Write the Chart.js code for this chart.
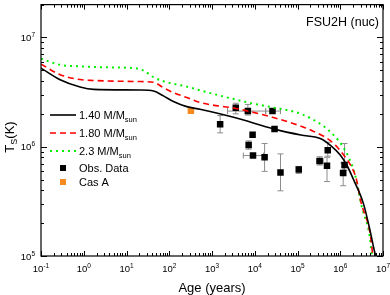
<!DOCTYPE html>
<html>
<head>
<meta charset="utf-8">
<script src="https://cdn.jsdelivr.net/npm/chart.js@4.4.1/dist/chart.umd.min.js"></script>
<style>
  html, body { margin: 0; padding: 0; background: #fff; }
</style>
</head>
<body>
<canvas id="coolingChart" width="390" height="295"></canvas>
<script>
// cooling curves, age in years, surface temperature in K
const age140 = [0.1, 0.28, 0.82, 1.7, 21, 43, 73, 125, 257, 525, 3.2e3, 2.9e4, 1.2e5, 3.4e5, 5.9e5, 1.0e6, 1.45e6, 2.0e6, 3.5e6, 5.0e6, 6.5e6, 6.9e6];
const temp140 = [5.25e6, 4.1e6, 3.52e6, 3.35e6, 3.31e6, 3.24e6, 2.92e6, 2.6e6, 2.33e6, 2.2e6, 1.86e6, 1.45e6, 1.28e6, 1.19e6, 1.03e6, 8.4e5, 6.7e5, 5.1e5, 3.0e5, 1.7e5, 1.06e5, 1.0e5];

const age180 = [0.1, 0.28, 0.82, 1.7, 21, 43, 73, 125, 257, 525, 3.6e3, 2.6e4, 1.4e5, 2.6e5, 4.5e5, 7.8e5, 1.2e6, 1.74e6, 2.4e6, 3.0e6, 5.0e6, 5.8e6];
const temp180 = [5.7e6, 4.57e6, 4.12e6, 4.04e6, 3.95e6, 3.89e6, 3.47e6, 3.13e6, 2.82e6, 2.54e6, 2.24e6, 1.86e6, 1.51e6, 1.36e6, 1.22e6, 1.03e6, 8.4e5, 6.8e5, 5.0e5, 3.2e5, 1.6e5, 1.0e5];

const age230 = [0.1, 0.28, 0.82, 3.5, 14.5, 25, 43, 73, 257, 525, 7.0e3, 2.6e4, 1.2e5, 4.1e5, 7.1e5, 1.1e6, 1.6e6, 2.2e6, 3.2e6, 4.9e6, 5.5e6];
const temp230 = [6.4e6, 5.62e6, 5.45e6, 5.33e6, 5.25e6, 4.98e6, 4.33e6, 3.98e6, 3.55e6, 3.28e6, 2.54e6, 2.29e6, 2.0e6, 1.54e6, 1.27e6, 1.03e6, 7.9e5, 5.6e5, 2.8e5, 1.5e5, 1.0e5];

// observed neutron stars
const obsAge = [1.55e3, 3.6e3, 6.9e3, 2.6e4, 2.9e4, 8.9e3, 7.2e3, 9.1e3, 1.7e4, 4.0e4, 1.07e5, 3.3e5, 5.1e5, 4.9e5, 1.17e6, 1.26e6];
const obsTemp = [1.61e6, 2.27e6, 2.12e6, 2.12e6, 1.45e6, 1.29e6, 1.04e6, 8.3e5, 8.0e5, 5.8e5, 6.2e5, 7.4e5, 9.3e5, 6.7e5, 5.75e5, 6.8e5];
const obsTempLo = [1.34e6, 2.0e6, 1.95e6, null, null, null, 9.5e5, null, 5.95e5, 3.95e5, 5.7e5, 6.8e5, 8.2e5, 4.8e5, 4.4e5, 6.1e5];
const obsTempHi = [1.93e6, 2.5e6, 2.44e6, null, null, null, 1.13e6, null, 1.07e6, 8.6e5, 6.6e5, 8.1e5, 1.1e6, 8.0e5, 7.1e5, 1.07e6];
const obsAgeLo = [null, null, 2.3e3, 1.8e4, null, null, null, 5.4e3, null, null, null, 2.8e5, null, null, 1.0e6, null];
const obsAgeHi = [null, null, 1.8e4, 4.0e4, null, null, null, 1.6e4, null, null, null, 4.0e5, null, null, 1.35e6, null];

const casAAge = [321];
const casATemp = [2.14e6];

const xDecades = [-1, 0, 1, 2, 3, 4, 5, 6, 7];
const yDecades = [5, 6, 7];

const FONT = '"Liberation Sans", Arial, Helvetica, sans-serif';

function pts(xs, ys) {
  return xs.map((x, i) => ({ x: x, y: ys[i] }));
}

// text with a raised/lowered small part
function drawSupText(ctx, base, small, x, y, size, smallSize, shift, align) {
  ctx.font = size + 'px ' + FONT;
  const wb = ctx.measureText(base).width;
  ctx.font = smallSize + 'px ' + FONT;
  const ws = ctx.measureText(small).width;
  let x0 = x;
  if (align === 'center') x0 = x - (wb + ws) / 2;
  if (align === 'right') x0 = x - (wb + ws);
  ctx.textAlign = 'left';
  ctx.textBaseline = 'alphabetic';
  ctx.font = size + 'px ' + FONT;
  ctx.fillText(base, x0, y);
  ctx.font = smallSize + 'px ' + FONT;
  ctx.fillText(small, x0 + wb, y + shift);
  return x0 + wb + ws;
}

const errorBars = {
  id: 'errorBars',
  beforeDatasetsDraw(chart) {
    const { ctx, scales: { x, y } } = chart;
    ctx.save();
    ctx.strokeStyle = '#8c8c8c';
    ctx.lineWidth = 1;
    const cap = 3;
    obsAge.forEach((a, i) => {
      const px = x.getPixelForValue(a);
      const py = y.getPixelForValue(obsTemp[i]);
      if (obsTempLo[i] !== null) {
        const y1 = y.getPixelForValue(obsTempLo[i]);
        const y2 = y.getPixelForValue(obsTempHi[i]);
        ctx.beginPath();
        ctx.moveTo(px, y1); ctx.lineTo(px, y2);
        ctx.moveTo(px - cap, y1); ctx.lineTo(px + cap, y1);
        ctx.moveTo(px - cap, y2); ctx.lineTo(px + cap, y2);
        ctx.stroke();
      }
      if (obsAgeLo[i] !== null) {
        const x1 = x.getPixelForValue(obsAgeLo[i]);
        const x2 = x.getPixelForValue(obsAgeHi[i]);
        ctx.beginPath();
        ctx.moveTo(x1, py); ctx.lineTo(x2, py);
        ctx.moveTo(x1, py - cap); ctx.lineTo(x1, py + cap);
        ctx.moveTo(x2, py - cap); ctx.lineTo(x2, py + cap);
        ctx.stroke();
      }
    });
    ctx.restore();
  }
};

const frameAndText = {
  id: 'frameAndText',
  afterDraw(chart) {
    const { ctx, chartArea: ca, scales: { x, y } } = chart;
    ctx.save();
    ctx.strokeStyle = '#000';
    ctx.lineWidth = 1.2;
    ctx.strokeRect(ca.left, ca.top, ca.right - ca.left, ca.bottom - ca.top);

    // inward ticks on all four sides
    ctx.lineWidth = 1;
    ctx.beginPath();
    for (let d = -1; d <= 7; d++) {
      for (let m = 1; m <= 9; m++) {
        const v = m * Math.pow(10, d);
        if (v > 1e7 + 1) continue;
        const px = Math.round(x.getPixelForValue(v)) + 0.5;
        const len = m === 1 ? 5 : 3;
        ctx.moveTo(px, ca.bottom); ctx.lineTo(px, ca.bottom - len);
        ctx.moveTo(px, ca.top); ctx.lineTo(px, ca.top + len);
      }
    }
    for (let d = 5; d <= 7; d++) {
      for (let m = 1; m <= 9; m++) {
        const v = m * Math.pow(10, d);
        if (v > 2e7 + 1) continue;
        const py = Math.round(y.getPixelForValue(v)) + 0.5;
        const len = m === 1 ? 6 : 3;
        ctx.moveTo(ca.left, py); ctx.lineTo(ca.left + len, py);
        ctx.moveTo(ca.right, py); ctx.lineTo(ca.right - len, py);
      }
    }
    ctx.stroke();

    // tick labels
    ctx.fillStyle = '#000';
    xDecades.forEach(d => {
      const px = x.getPixelForValue(Math.pow(10, d));
      drawSupText(ctx, '10', String(d), px, 272, 9.5, 6.5, -4, 'center');
    });
    yDecades.forEach(d => {
      const py = y.getPixelForValue(Math.pow(10, d));
      drawSupText(ctx, '10', String(d), 35, py + 3.5, 9.5, 6.5, -4, 'right');
    });

    // axis titles
    ctx.font = '13px ' + FONT;
    ctx.textAlign = 'center';
    ctx.textBaseline = 'alphabetic';
    ctx.fillText('Age (years)', 212, 292);

    ctx.save();
    ctx.translate(14, 137);
    ctx.rotate(-Math.PI / 2);
    ctx.font = '13px ' + FONT;
    const wT = ctx.measureText('T').width;
    ctx.font = '9px ' + FONT;
    const wS = ctx.measureText('S').width;
    ctx.font = '13px ' + FONT;
    const wK = ctx.measureText('(K)').width;
    let tx = -(wT + wS + wK) / 2;
    ctx.textAlign = 'left';
    ctx.fillText('T', tx, 0);
    ctx.font = '9px ' + FONT;
    ctx.fillText('S', tx + wT, 3);
    ctx.font = '13px ' + FONT;
    ctx.fillText('(K)', tx + wT + wS, 0);
    ctx.restore();

    // model label
    ctx.font = '12.5px ' + FONT;
    ctx.textAlign = 'right';
    ctx.fillText('FSU2H (nuc)', 379, 26);

    // legend
    const rows = [
      { label: '1.40 M/M', color: '#000', dash: [], width: 1.6, yy: 115 },
      { label: '1.80 M/M', color: '#ff0000', dash: [6, 4], width: 1.6, yy: 133 },
      { label: '2.3 M/M', color: '#00ee00', dash: [2, 4], width: 2, yy: 151 }
    ];
    rows.forEach(r => {
      ctx.strokeStyle = r.color;
      ctx.lineWidth = r.width;
      ctx.setLineDash(r.dash);
      ctx.beginPath();
      ctx.moveTo(50, r.yy); ctx.lineTo(76, r.yy);
      ctx.stroke();
      ctx.setLineDash([]);
      ctx.fillStyle = '#000';
      drawSupText(ctx, r.label, 'sun', 79, r.yy + 4, 11, 7.5, 3, 'left');
    });
    ctx.fillStyle = '#000';
    ctx.fillRect(60, 165, 6, 6);
    ctx.fillStyle = '#f58a1f';
    ctx.fillRect(60, 179, 6, 6);
    ctx.fillStyle = '#000';
    ctx.font = '11px ' + FONT;
    ctx.textAlign = 'left';
    ctx.fillText('Obs. Data', 79, 172);
    ctx.fillText('Cas A', 79, 186);
    ctx.restore();
  }
};

const ctx = document.getElementById('coolingChart').getContext('2d');

new Chart(ctx, {
  type: 'line',
  data: {
    datasets: [
      {
        label: '1.40 M/Msun',
        data: pts(age140, temp140),
        borderColor: '#000',
        borderWidth: 1.6,
        pointRadius: 0,
        cubicInterpolationMode: 'monotone'
      },
      {
        label: '1.80 M/Msun',
        data: pts(age180, temp180),
        borderColor: '#ff0000',
        borderWidth: 1.6,
        borderDash: [6, 4],
        pointRadius: 0,
        cubicInterpolationMode: 'monotone'
      },
      {
        label: '2.3 M/Msun',
        data: pts(age230, temp230),
        borderColor: '#00ee00',
        borderWidth: 2,
        borderDash: [2, 4],
        pointRadius: 0,
        cubicInterpolationMode: 'monotone'
      },
      {
        label: 'Obs. Data',
        data: pts(obsAge, obsTemp),
        showLine: false,
        pointStyle: 'rect',
        pointRadius: 4.6,
        backgroundColor: '#000',
        borderWidth: 0
      },
      {
        label: 'Cas A',
        data: pts(casAAge, casATemp),
        showLine: false,
        pointStyle: 'rect',
        pointRadius: 4.6,
        backgroundColor: '#f58a1f',
        borderWidth: 0
      }
    ]
  },
  options: {
    responsive: false,
    animation: false,
    layout: { padding: { top: 1, right: 7, left: 0, bottom: 0 } },
    scales: {
      x: {
        type: 'logarithmic',
        min: 0.1,
        max: 1e7,
        grid: { display: false },
        border: { display: false },
        ticks: { display: false },
        afterFit: function(scale) { scale.height = 39; }
      },
      y: {
        type: 'logarithmic',
        min: 1e5,
        max: 2e7,
        grid: { display: false },
        border: { display: false },
        ticks: { display: false },
        afterFit: function(scale) { scale.width = 41; }
      }
    },
    plugins: {
      legend: { display: false },
      tooltip: { enabled: false }
    }
  },
  plugins: [errorBars, frameAndText]
});
</script>
</body>
</html>
